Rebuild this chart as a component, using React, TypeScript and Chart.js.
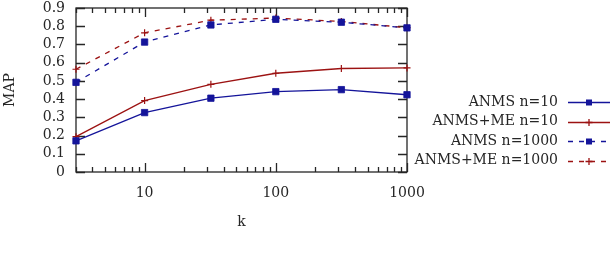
import { useEffect, useRef } from 'react';
import { Chart, registerables } from 'chart.js';

Chart.register(...registerables);

const kValues = [3, 10, 32, 100, 316, 1000];
const anmsN10 = [0.171, 0.326, 0.405, 0.441, 0.452, 0.424];
const anmsMeN10 = [0.194, 0.392, 0.481, 0.542, 0.568, 0.571];
const anmsN1000 = [0.492, 0.713, 0.807, 0.838, 0.822, 0.791];
const anmsMeN1000 = [0.564, 0.764, 0.833, 0.845, 0.826, 0.792];
const seriesLabels = ['ANMS n=10', 'ANMS+ME n=10', 'ANMS n=1000', 'ANMS+ME n=1000'];
const xMajorTicks = [10, 100, 1000];
const yTickValues = [0, 0.1, 0.2, 0.3, 0.4, 0.5, 0.6, 0.7, 0.8, 0.9];

const BLUE = '#14149a';
const RED = '#9c1212';
const INK = '#262626';
const FONT = '"DejaVu Serif"';
const FS = 14;

const framePlugin = {
  id: 'gnuFrame',
  beforeDatasetsDraw(chart: any) {
    const { ctx, chartArea: a, scales } = chart;
    const xs = scales.x;
    const ys = scales.y;
    ctx.save();
    ctx.strokeStyle = INK;
    ctx.lineWidth = 1.3;
    ctx.beginPath();
    for (const v of yTickValues) {
      const py = Math.round(ys.getPixelForValue(v)) + 0.5;
      ctx.moveTo(a.left, py);
      ctx.lineTo(a.left + 9, py);
      ctx.moveTo(a.right, py);
      ctx.lineTo(a.right - 9, py);
    }
    for (let d = 1; d <= 1000; d *= 10) {
      for (let m = 1; m <= 9; m++) {
        const v = m * d;
        if (v < xs.min || v > xs.max) continue;
        const major = m === 1;
        const len = major ? 9 : 5;
        const px = Math.round(xs.getPixelForValue(v)) + 0.5;
        ctx.moveTo(px, a.bottom);
        ctx.lineTo(px, a.bottom - len);
        ctx.moveTo(px, a.top);
        ctx.lineTo(px, a.top + len);
      }
    }
    ctx.stroke();
    ctx.strokeRect(a.left, a.top, a.right - a.left, a.bottom - a.top);
    ctx.restore();
  },
  afterDraw(chart: any) {
    const { ctx } = chart;
    ctx.save();
    ctx.font = `${FS}px ${FONT}`;
    ctx.textAlign = 'right';
    ctx.textBaseline = 'middle';
    chart.data.datasets.forEach((ds: any, i: number) => {
      const y = 102 + i * 19.6;
      ctx.fillStyle = INK;
      ctx.fillText(ds.label, 558, y);
      ctx.strokeStyle = ds.borderColor;
      ctx.lineWidth = 1.3;
      ctx.setLineDash(ds.borderDash || []);
      ctx.beginPath();
      ctx.moveTo(568, Math.round(y) + 0.5);
      ctx.lineTo(610, Math.round(y) + 0.5);
      ctx.stroke();
      ctx.setLineDash([]);
      const mx = 589;
      const my = Math.round(y) + 0.5;
      if (ds.pointStyle === 'rect') {
        ctx.fillStyle = ds.pointBackgroundColor;
        ctx.fillRect(mx - 3, my - 3, 6, 6);
      } else {
        ctx.strokeStyle = ds.pointBorderColor;
        ctx.beginPath();
        ctx.moveTo(mx - 3.5, my);
        ctx.lineTo(mx + 3.5, my);
        ctx.moveTo(mx, my - 3.5);
        ctx.lineTo(mx, my + 3.5);
        ctx.stroke();
      }
    });
    ctx.restore();
  },
};

function makeSeries(label: string, data: number[], color: string, dashed: boolean, square: boolean) {
  return {
    label,
    data: kValues.map((k, i) => ({ x: k, y: data[i] })),
    borderColor: color,
    backgroundColor: color,
    borderWidth: 1.3,
    borderDash: dashed ? [5, 6] : [],
    pointStyle: square ? 'rect' : 'cross',
    pointRadius: square ? 4.5 : 3.5,
    pointBorderWidth: square ? 0.8 : 1.2,
    pointBackgroundColor: color,
    pointBorderColor: color,
    tension: 0,
    fill: false,
    clip: false,
  };
}

export default function App() {
  const ref = useRef<HTMLCanvasElement | null>(null);
  useEffect(() => {
    if (!ref.current) return;
    const chart = new Chart(ref.current, {
      type: 'line',
      data: {
        datasets: [
          makeSeries(seriesLabels[0], anmsN10, BLUE, false, true),
          makeSeries(seriesLabels[1], anmsMeN10, RED, false, false),
          makeSeries(seriesLabels[2], anmsN1000, BLUE, true, true),
          makeSeries(seriesLabels[3], anmsMeN1000, RED, true, false),
        ] as any,
      },
      options: {
        animation: false,
        responsive: false,
        devicePixelRatio: 1,
        layout: { padding: { top: 8, right: 203, left: 0, bottom: 0 } },
        plugins: { legend: { display: false }, tooltip: { enabled: false } },
        scales: {
          x: {
            type: 'logarithmic',
            min: 3,
            max: 1000,
            grid: { display: false, drawTicks: false },
            border: { display: false },
            afterBuildTicks: (scale: any) => {
              scale.ticks = xMajorTicks.map((v) => ({ value: v, major: true }));
            },
            afterFit: (scale: any) => {
              scale.height = 84;
              scale.paddingLeft = 0;
              scale.paddingRight = 0;
            },
            ticks: {
              autoSkip: false,
              maxRotation: 0,
              padding: 13,
              color: INK,
              font: { family: FONT, size: FS },
              callback: (v: any) => String(v),
            },
            title: {
              display: true,
              text: 'k',
              color: INK,
              font: { family: FONT, size: FS },
              padding: { top: 0, bottom: 25 },
            },
          },
          y: {
            type: 'linear',
            min: 0,
            max: 0.9,
            grid: { display: false, drawTicks: false },
            border: { display: false },
            afterBuildTicks: (scale: any) => {
              scale.ticks = yTickValues.map((v) => ({ value: v }));
            },
            afterFit: (scale: any) => {
              scale.width = 76;
              scale.paddingTop = 0;
              scale.paddingBottom = 0;
            },
            ticks: {
              autoSkip: false,
              padding: 11,
              color: INK,
              font: { family: FONT, size: FS },
              callback: (v: any) => (Number(v) === 0 ? '0' : Number(v).toFixed(1)),
            },
            title: {
              display: true,
              text: 'MAP',
              color: INK,
              font: { family: FONT, size: FS },
              padding: { top: 2, bottom: 0 },
            },
          },
        },
      },
      plugins: [framePlugin],
    });
    return () => chart.destroy();
  }, []);
  return (
    <div style={{ position: 'fixed', left: 0, top: 0, width: 610, height: 256, background: '#fff' }}>
      <canvas ref={ref} width={610} height={256} />
    </div>
  );
}
